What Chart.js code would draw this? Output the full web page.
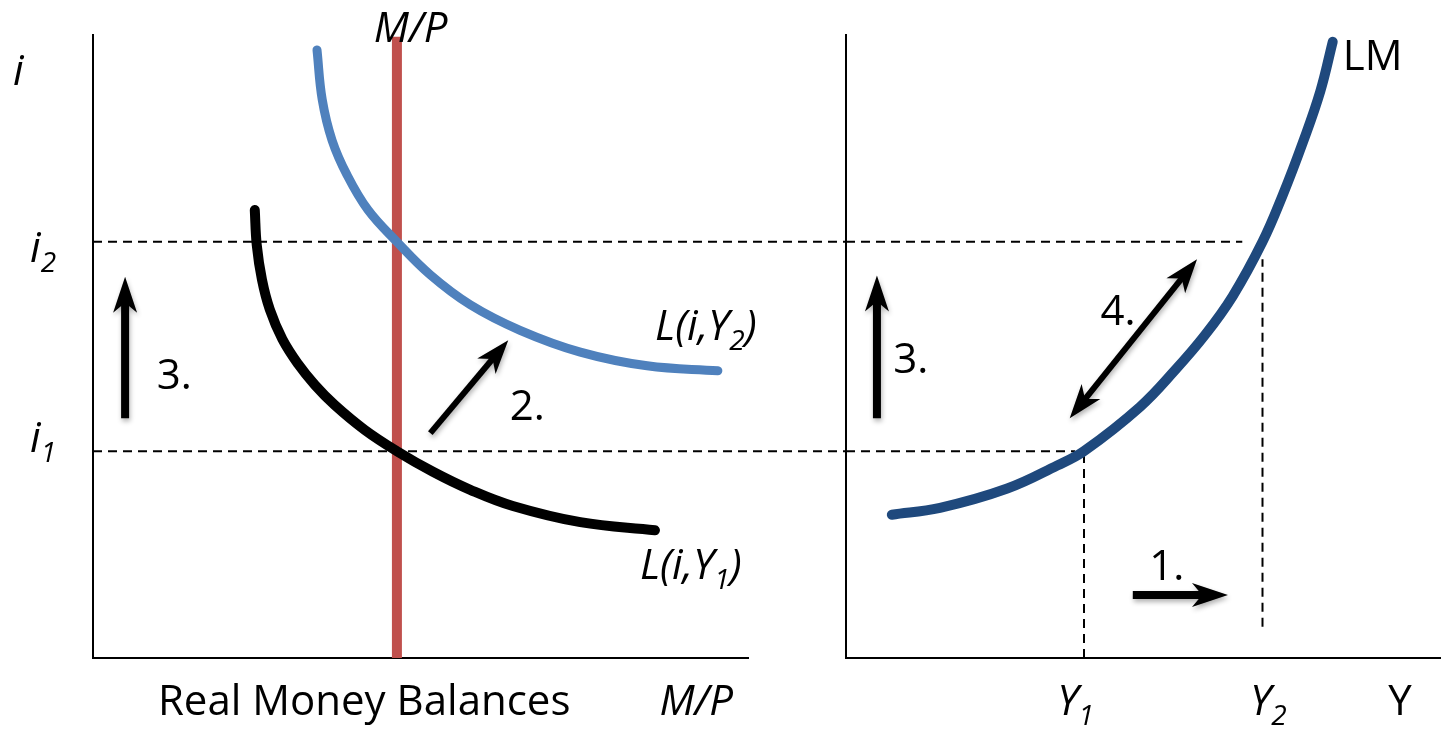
<!DOCTYPE html>
<html>
<head>
<meta charset="utf-8">
<script src="https://cdn.jsdelivr.net/npm/chart.js@4.4.1/dist/chart.umd.min.js"></script>
<style>
    html, body { margin: 0; padding: 0; background: #fff; overflow: hidden; }
    #wrap { position: relative; width: 1441px; height: 729px; }
    #wrap canvas { position: absolute; left: 0; top: 0; }
</style>
</head>
<body>
<div id="wrap">
    <canvas id="money-chart" width="1441" height="729"></canvas>
    <canvas id="lm-chart" width="1441" height="729"></canvas>
</div>
<script>
// interest rate levels, shared by both panels
const i1 = 3.32;
const i2 = 6.68;
// real money supply M/P
const realBalances = 4.64;
// output levels
const Y1 = 4.0;
const Y2 = 7.0;

// money demand L(i,Y1): real balances and interest rate
const demandY1M = [2.47, 2.50, 2.58, 2.70, 2.89, 3.13, 3.39, 3.69, 4.15, 4.64, 5.19, 5.76, 6.41, 7.44, 8.58];
const demandY1I = [7.19, 6.63, 6.07, 5.59, 5.12, 4.72, 4.38, 4.06, 3.66, 3.32, 2.99, 2.70, 2.44, 2.18, 2.05];
// money demand L(i,Y2)
const demandY2M = [3.42, 3.50, 3.65, 3.88, 4.20, 4.64, 5.15, 5.76, 6.52, 7.44, 8.46, 9.54];
const demandY2I = [9.76, 8.96, 8.31, 7.75, 7.19, 6.68, 6.15, 5.67, 5.26, 4.91, 4.69, 4.61];
// LM curve: output and interest rate
const lmY = [0.77, 1.58, 2.71, 3.55, 4.0, 4.94, 5.53, 6.03, 6.5, 7.0, 7.34, 7.68, 7.97, 8.18];
const lmI = [2.30, 2.41, 2.72, 3.09, 3.32, 4.03, 4.62, 5.18, 5.81, 6.68, 7.43, 8.28, 9.09, 9.89];

const FONT = '"Open Sans", "Liberation Sans", sans-serif';
const TEXT_SIZE = 42;
const SUB_SIZE = 28;
const SUB_DROP = 10;

const toPoints = (xs, ys) => xs.map((v, k) => ({ x: v, y: ys[k] }));

function drawHead(ctx, tip, ux, uy, len, half) {
    const nx = -uy, ny = ux;
    ctx.beginPath();
    ctx.moveTo(tip[0], tip[1]);
    ctx.lineTo(tip[0] - ux * len + nx * half, tip[1] - uy * len + ny * half);
    ctx.lineTo(tip[0] - ux * len * 0.72, tip[1] - uy * len * 0.72);
    ctx.lineTo(tip[0] - ux * len - nx * half, tip[1] - uy * len - ny * half);
    ctx.closePath();
    ctx.fill();
}

function drawArrow(ctx, p0, p1, a) {
    const dx = p1[0] - p0[0], dy = p1[1] - p0[1];
    const len = Math.hypot(dx, dy);
    const ux = dx / len, uy = dy / len;
    const back = a.head * 0.7;
    const start = a.both ? [p0[0] + ux * back, p0[1] + uy * back] : p0;
    const end = [p1[0] - ux * back, p1[1] - uy * back];
    ctx.shadowColor = 'rgba(0,0,0,0.3)';
    ctx.shadowBlur = 5;
    ctx.shadowOffsetX = 1;
    ctx.shadowOffsetY = 3;
    ctx.strokeStyle = '#000';
    ctx.fillStyle = '#000';
    ctx.lineWidth = a.width;
    ctx.lineCap = 'butt';
    ctx.beginPath();
    ctx.moveTo(start[0], start[1]);
    ctx.lineTo(end[0], end[1]);
    ctx.stroke();
    drawHead(ctx, p1, ux, uy, a.head, a.half);
    if (a.both) drawHead(ctx, p0, -ux, -uy, a.head, a.half);
}

// "_" marks the next character as a subscript
function drawLabel(ctx, l, x, y) {
    const parts = [];
    for (let k = 0; k < l.text.length; k++) {
        if (l.text[k] === '_') { parts.push([l.text[k + 1], true]); k++; }
        else if (parts.length && !parts[parts.length - 1][1]) parts[parts.length - 1][0] += l.text[k];
        else parts.push([l.text[k], false]);
    }
    const style = l.italic ? 'italic ' : '';
    const fontFor = sub => style + (sub ? SUB_SIZE : TEXT_SIZE) + 'px ' + FONT;
    let total = 0;
    parts.forEach(p => { ctx.font = fontFor(p[1]); p.push(ctx.measureText(p[0]).width); total += p[2]; });
    let cx = l.align === 'center' ? x - total / 2 : x;
    ctx.textAlign = 'left';
    ctx.textBaseline = 'alphabetic';
    parts.forEach(p => {
        ctx.font = fontFor(p[1]);
        ctx.fillText(p[0], cx, y + (p[1] ? SUB_DROP : 0));
        cx += p[2];
    });
}

const diagramPlugin = {
    id: 'diagram',
    afterDatasetsDraw(chart, args, opts) {
        const { ctx } = chart;
        const xs = chart.scales.x, ys = chart.scales.y;
        const px = p => [xs.getPixelForValue(p[0]), ys.getPixelForValue(p[1])];
        (opts.arrows || []).forEach(a => {
            ctx.save();
            drawArrow(ctx, px(a.from), px(a.to), a);
            ctx.restore();
        });
        ctx.save();
        ctx.fillStyle = '#000';
        (opts.labels || []).forEach(l => {
            const p = px(l.at);
            drawLabel(ctx, l, p[0], p[1]);
        });
        ctx.restore();
    }
};

function axes() {
    const common = {
        type: 'linear', min: 0, max: 10,
        grid: { display: false, drawTicks: false },
        ticks: { display: false },
        border: { display: true, color: '#000', width: 2 }
    };
    return { x: { ...common }, y: { ...common } };
}

function curve(points, color, width, order, cap) {
    return {
        data: points, showLine: true, borderColor: color, borderWidth: width,
        pointRadius: 0, tension: 0.4,
        borderCapStyle: cap || 'round', borderJoinStyle: 'round', order: order, clip: false
    };
}

function guide(points, order) {
    return {
        data: points, showLine: true, borderColor: '#000', borderWidth: 2,
        borderDash: [9, 6], pointRadius: 0, order: order, clip: false
    };
}

const baseOptions = (padding, diagram) => ({
    responsive: false,
    animation: false,
    events: [],
    layout: { padding },
    scales: axes(),
    plugins: { legend: { display: false }, tooltip: { enabled: false }, diagram }
});

// Money market
new Chart(document.querySelector('#money-chart'), {
    type: 'scatter',
    data: {
        datasets: [
            curve(toPoints(demandY1M, demandY1I), '#000000', 10, 1),
            curve(toPoints(demandY2M, demandY2I), '#4F81BD', 9, 2),
            curve([{ x: realBalances, y: 0 }, { x: realBalances, y: 9.97 }], '#C0504D', 10, 3, 'butt'),
            guide([{ x: 0, y: i2 }, { x: 11.5, y: i2 }], 5),
            guide([{ x: 0, y: i1 }, { x: 11.5, y: i1 }], 5)
        ]
    },
    options: baseOptions({ left: 93, right: 693, top: 35, bottom: 71 }, {
        arrows: [
            { from: [0.49, 3.85], to: [0.49, 6.12], width: 8, head: 36, half: 12 },
            { from: [5.15, 3.61], to: [6.34, 5.10], width: 6, head: 34, half: 12 }
        ],
        labels: [
            { text: 'M/P', at: [realBalances + 0.21, 9.89], align: 'center', italic: true },
            { text: 'i', at: [-1.22, 9.2], align: 'left', italic: true },
            { text: 'i_2', at: [-0.96, i2 - 0.32], align: 'left', italic: true },
            { text: 'i_1', at: [-0.96, i1 - 0.01], align: 'left', italic: true },
            { text: '3.', at: [1.24, 4.32], align: 'center' },
            { text: '2.', at: [6.63, 3.82], align: 'center' },
            { text: 'L(i,Y_2)', at: [8.58, 5.10], align: 'left', italic: true },
            { text: 'L(i,Y_1)', at: [8.35, 1.27], align: 'left', italic: true },
            { text: 'Real Money Balances', at: [4.14, -0.91], align: 'center' },
            { text: 'M/P', at: [9.21, -0.91], align: 'center', italic: true }
        ]
    }),
    plugins: [diagramPlugin]
});

// LM curve
new Chart(document.querySelector('#lm-chart'), {
    type: 'scatter',
    data: {
        datasets: [
            curve(toPoints(lmY, lmI), '#1F497D', 10, 1),
            guide([{ x: 0, y: i2 }, { x: 6.66, y: i2 }], 5),
            guide([{ x: 0, y: i1 }, { x: 3.85, y: i1 }], 5),
            guide([{ x: Y1, y: 0 }, { x: Y1, y: i1 }], 5),
            guide([{ x: Y2, y: 0.5 }, { x: Y2, y: 6.4 }], 5)
        ]
    },
    options: baseOptions({ left: 846, right: 0, top: 35, bottom: 71 }, {
        arrows: [
            { from: [0.52, 3.85], to: [0.52, 6.14], width: 8, head: 36, half: 12 },
            { from: [3.76, 3.85], to: [5.90, 6.40], width: 6, head: 34, half: 12, both: true },
            { from: [4.82, 1.01], to: [6.42, 1.01], width: 8, head: 36, half: 12 }
        ],
        labels: [
            { text: 'LM', at: [8.35, 9.44], align: 'left' },
            { text: '3.', at: [1.09, 4.57], align: 'center' },
            { text: '4.', at: [4.57, 5.35], align: 'center' },
            { text: '1.', at: [5.39, 1.25], align: 'center' },
            { text: 'Y_1', at: [Y1 - 0.45, -0.91], align: 'left', italic: true },
            { text: 'Y_2', at: [Y2 - 0.21, -0.91], align: 'left', italic: true },
            { text: 'Y', at: [9.31, -0.91], align: 'center' }
        ]
    }),
    plugins: [diagramPlugin]
});
</script>
</body>
</html>
